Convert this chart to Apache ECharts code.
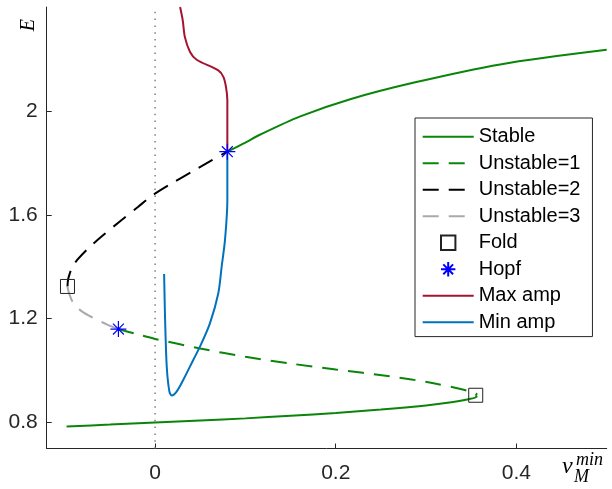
<!DOCTYPE html>
<html>
<head>
<meta charset="utf-8">
<script src="https://cdn.jsdelivr.net/npm/echarts@6/dist/echarts.min.js"></script>
<style>
  html, body { margin: 0; padding: 0; background: #fff; }
  #chart { width: 612px; height: 489px; }
</style>
</head>
<body>
<div id="chart"></div>
<script>
// stable branches
var stableLow = [[-0.098, 0.785], [-0.05, 0.792], [0, 0.800], [0.05, 0.808], [0.1, 0.816], [0.15, 0.826],
  [0.2, 0.837], [0.25, 0.850], [0.3, 0.866], [0.33, 0.879], [0.347, 0.890], [0.356, 0.899], [0.355, 0.905]];
var stableHigh = [[0.080, 1.843], [0.1, 1.878], [0.116, 1.908], [0.16, 1.978], [0.216, 2.045], [0.288, 2.110],
  [0.382, 2.179], [0.5, 2.235]];
// unstable branches
var unstable1 = [[-0.041, 1.160], [-0.02, 1.140], [0, 1.122], [0.05, 1.085], [0.1, 1.053], [0.15, 1.027],
  [0.2, 1.004], [0.26, 0.978], [0.304, 0.954], [0.337, 0.930], [0.35, 0.918], [0.356, 0.910], [0.355, 0.905]];
var unstable2 = [[-0.097, 1.324], [-0.096, 1.356], [-0.0904, 1.407], [-0.0756, 1.465], [-0.058, 1.52],
  [-0.037, 1.58], [-0.019, 1.63], [-0.004, 1.672], [0.019, 1.722], [0.042, 1.768], [0.063, 1.81], [0.080, 1.843]];
var unstable3 = [[-0.097, 1.324], [-0.0955, 1.30], [-0.0905, 1.26], [-0.081, 1.228], [-0.068, 1.202],
  [-0.053, 1.177], [-0.041, 1.160]];
// bifurcation points
var foldPts = [[-0.097, 1.324], [0.355, 0.905]];
var hopfPts = [[-0.0406, 1.160], [0.080, 1.843]];
// periodic orbit amplitudes
var maxAmp = [[0.080, 1.843], [0.080, 2.041], [0.0785, 2.092], [0.0756, 2.131], [0.070, 2.156], [0.046, 2.197],
  [0.0387, 2.227], [0.033, 2.284], [0.0306, 2.349], [0.0277, 2.40]];
var minAmp = [[0.080, 1.843], [0.080, 1.657], [0.0774, 1.503], [0.0737, 1.40], [0.070, 1.298], [0.0608, 1.183],
  [0.0498, 1.093], [0.0424, 1.042], [0.0313, 0.965], [0.024, 0.92], [0.0185, 0.904], [0.0158, 0.92],
  [0.0129, 1.016], [0.011, 1.208], [0.0100, 1.372]];
var zeroLine = [[0, 0.7], [0, 2.4]];
var xTicks = [0, 0.2, 0.4];
var yTicks = [0.8, 1.2, 1.6, 2];
var lineNames = ['Stable', 'Unstable=1', 'Unstable=2', 'Unstable=3'];
var markerNames = ['Fold', 'Hopf'];
var ampNames = ['Max amp', 'Min amp'];

var SANS = '"Liberation Sans", Arial, sans-serif';
var GREEN = '#0a850a';
var dash = [16, 10];
var asterisk = 'path://M5,0L5,10M0,5L10,5M1.6,1.6L8.4,8.4M1.6,8.4L8.4,1.6';

function lineSeries(name, data, color, type) {
  return {
    name: name, type: 'line', data: data, symbol: 'none', smooth: 0.3,
    lineStyle: { color: color, width: 2, type: type }, itemStyle: { color: color },
    emphasis: { disabled: true }, z: 3
  };
}

// legend entries: hide the symbol for plain lines, keep it for markers
function legendItems() {
  var out = [];
  lineNames.forEach(function(n) { out.push({ name: n, itemStyle: { opacity: 0 } }); });
  markerNames.forEach(function(n) { out.push({ name: n }); });
  ampNames.forEach(function(n) { out.push({ name: n, itemStyle: { opacity: 0 } }); });
  return out;
}

var chart = echarts.init(document.getElementById('chart'), null, { renderer: 'canvas' });
var option = {
  animation: false,
  backgroundColor: '#fff',
  textStyle: { fontFamily: SANS },
  grid: { left: 46.7, right: 5.3, top: 7, bottom: 40.5, containLabel: false },
  xAxis: {
    type: 'value', min: -0.12, max: 0.5,
    axisLine: { show: true, onZero: false, lineStyle: { color: '#262626', width: 1 } },
    axisTick: { show: true, inside: true, length: 5, customValues: xTicks, lineStyle: { color: '#262626' } },
    axisLabel: { customValues: xTicks, color: '#262626', fontSize: 21, fontFamily: SANS, margin: 14 },
    splitLine: { show: false }
  },
  yAxis: {
    type: 'value', min: 0.7, max: 2.4,
    axisLine: { show: true, onZero: false, lineStyle: { color: '#262626', width: 1 } },
    axisTick: { show: true, inside: true, length: 5, customValues: yTicks, lineStyle: { color: '#262626' } },
    axisLabel: { customValues: yTicks, color: '#262626', fontSize: 21, fontFamily: SANS, margin: 9 },
    splitLine: { show: false }
  },
  legend: {
    orient: 'vertical', left: 415, top: 118,
    data: legendItems(),
    itemWidth: 51, itemHeight: 18, itemGap: 6.5,
    padding: [8.8, 12, 4.3, 6.7],
    backgroundColor: '#fff', borderColor: '#262626', borderWidth: 1, borderRadius: 0,
    textStyle: { fontSize: 20, fontFamily: SANS, color: '#000' },
    selectedMode: false
  },
  graphic: [
    { type: 'text', left: 19, top: 19, rotation: Math.PI / 2,
      style: { text: 'E', font: 'italic 20px "Liberation Serif", serif', fill: '#000' } },
    { type: 'text', x: 562, y: 479,
      style: { text: 'v', font: 'italic 24px "Liberation Serif", serif', fill: '#000', textVerticalAlign: 'bottom' } },
    { type: 'text', x: 576, y: 469,
      style: { text: 'min', font: 'italic 18px "Liberation Serif", serif', fill: '#000', textVerticalAlign: 'bottom' } },
    { type: 'text', x: 574, y: 486,
      style: { text: 'M', font: 'italic 18px "Liberation Serif", serif', fill: '#000', textVerticalAlign: 'bottom' } }
  ],
  series: [
    { name: 'zero', type: 'line', data: zeroLine, symbol: 'none', silent: true,
      lineStyle: { color: '#808080', width: 1.5, type: [1.5, 5.3] }, z: 1 },
    lineSeries('Stable', stableLow, GREEN, 'solid'),
    lineSeries('Stable', stableHigh, GREEN, 'solid'),
    lineSeries('Unstable=1', unstable1, GREEN, dash),
    lineSeries('Unstable=2', unstable2, '#000', dash),
    lineSeries('Unstable=3', unstable3, '#aaaaaa', dash),
    lineSeries('Max amp', maxAmp, '#a2142f', 'solid'),
    lineSeries('Min amp', minAmp, '#0072bd', 'solid'),
    { name: 'Fold', type: 'line', data: foldPts, symbol: 'rect', symbolSize: 14, showSymbol: true,
      lineStyle: { opacity: 0, width: 0 },
      itemStyle: { color: 'rgba(0,0,0,0)', borderColor: '#222', borderWidth: 1 }, z: 5 },
    { name: 'Hopf', type: 'line', data: hopfPts, symbol: asterisk, symbolSize: 16, showSymbol: true,
      lineStyle: { opacity: 0, width: 0 },
      itemStyle: { color: 'rgba(0,0,0,0)', borderColor: '#0000ff', borderWidth: 1.2 }, z: 5 }
  ]
};
chart.setOption(option);
</script>
</body>
</html>
